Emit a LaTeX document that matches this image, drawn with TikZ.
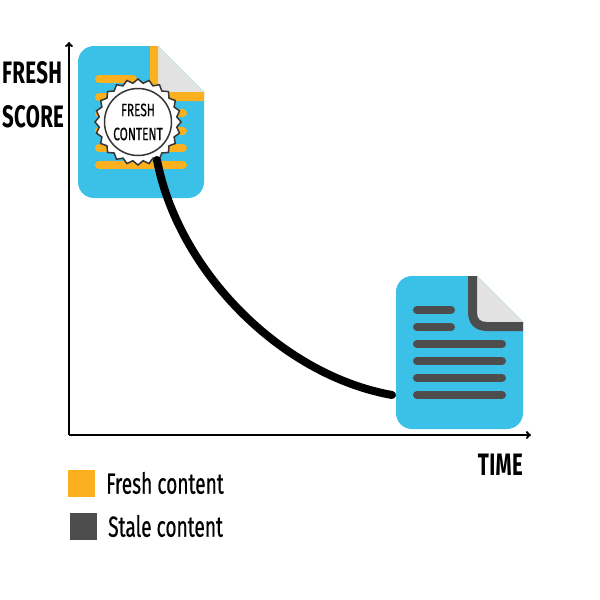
\documentclass[tikz,border=0pt]{standalone}
\usepackage{fontspec}
\usetikzlibrary{shapes.geometric,arrows.meta}
\newfontfamily\labelfont[FakeStretch=0.66,FakeBold=0.5]{Fira Sans}
\newfontfamily\axisfont[FakeStretch=0.66,LetterSpace=1]{Fira Sans}
\definecolor{docblue}{HTML}{3BC0E8}
\definecolor{freshorange}{HTML}{FBB01F}
\definecolor{staledark}{HTML}{4D4D4D}
\definecolor{foldgray}{HTML}{E2E2E2}
\tikzset{
    axisline/.style={line width=2pt,-{To[length=5pt,width=8pt]}},
    docline/.style={line width=8pt,line cap=round},
    axislabel/.style={font=\axisfont\fontsize{31}{31}\selectfont\bfseries,text=black,inner sep=0pt},
    legendlabel/.style={font=\labelfont\fontsize{29}{29}\selectfont,text=black,inner sep=0pt,anchor=west},
    badgelabel/.style={font=\labelfont\fontsize{18}{18}\selectfont,text=black,inner sep=0pt}
}
\begin{document}
\begin{tikzpicture}[x=1pt,y=-1pt]
        \useasboundingbox (0,0) rectangle (600,600);
        %% Axes
        \coordinate (origin) at (69,435);
        \coordinate (ytip) at (69,42);
        \coordinate (xtip) at (531,435);
        \draw[axisline] (origin) -- (ytip);
        \draw[axisline] (origin) -- (xtip);
        %% Fresh document
        \fill[docblue] (78,120) [rounded corners=16pt] -- (78,46) -- (110,46) [sharp corners] -- (158,46)
            -- (204,92) -- (204,130) [rounded corners=16pt] -- (204,198) -- (78,198) -- cycle;
        \fill[foldgray] (158,46) -- (204,92) -- (158,92) -- cycle;
        \fill[freshorange] (150,46) -- (158,46) -- (158,92) -- (204,92)
            -- (204,101) -- (150,101) -- cycle;
        \foreach \y/\xend in {79/133,97/133,113/183,131/183,148/183,165/183}
            \draw[docline,freshorange] (99,\y) -- (\xend,\y);
        %% Stale document
        \fill[docblue] (396,350) [rounded corners=16pt] -- (396,276) -- (430,276) [sharp corners] -- (477,276)
            -- (523,322) -- (523,360) [rounded corners=16pt] -- (523,429) -- (396,429) -- cycle;
        \fill[foldgray] (477,276) -- (523,322) -- (477,322) -- cycle;
        \fill[staledark] (468,276) -- (477,276) -- (477,312)
            .. controls (477,319) and (480,322) .. (487,322) -- (523,322) -- (523,331)
            -- (487,331) .. controls (475,331) and (468,324) .. (468,312) -- cycle;
        \foreach \y/\xend in {310/451,327/451,344/502,361/502,378/502,395/502}
            \draw[docline,staledark] (417,\y) -- (\xend,\y);
        %% Badge
        \node[star,star points=24,star point ratio=1.1,minimum size=86pt,inner sep=0pt,
            draw=staledark!70!black,fill=white,line width=1.5pt] (badge) at (138,122) {};
        \node[circle,draw=staledark!70!black,fill=white,line width=1.5pt,
            minimum size=67pt,inner sep=0pt] (seal) at (badge.center) {};
        \node[badgelabel] (sealtop) at (138,110) {FRESH};
        \node[badgelabel] (sealbottom) at (138,134) {CONTENT};
        %% Decay curve
        \coordinate (curvestart) at (157,160);
        \coordinate (curveend) at (392,395);
        \draw[line width=8pt,line cap=round] (curvestart)
            .. controls (178,270) and (280,375) .. (curveend);
        %% Labels
        \node[axislabel,anchor=west] (fresh) at (2,73) {FRESH};
        \node[axislabel,anchor=west] (score) at (2,117) {SCORE};
        \node[axislabel,anchor=east] (time) at (523,465) {TIME};
        %% Legend
        \fill[freshorange] (68,470) rectangle (95,497);
        \node[legendlabel] (freshlegend) at (106,483) {Fresh content};
        \fill[staledark] (70,513) rectangle (97,540);
        \node[legendlabel] (stalelegend) at (108,526) {Stale content};
    \end{tikzpicture}
\end{document}
